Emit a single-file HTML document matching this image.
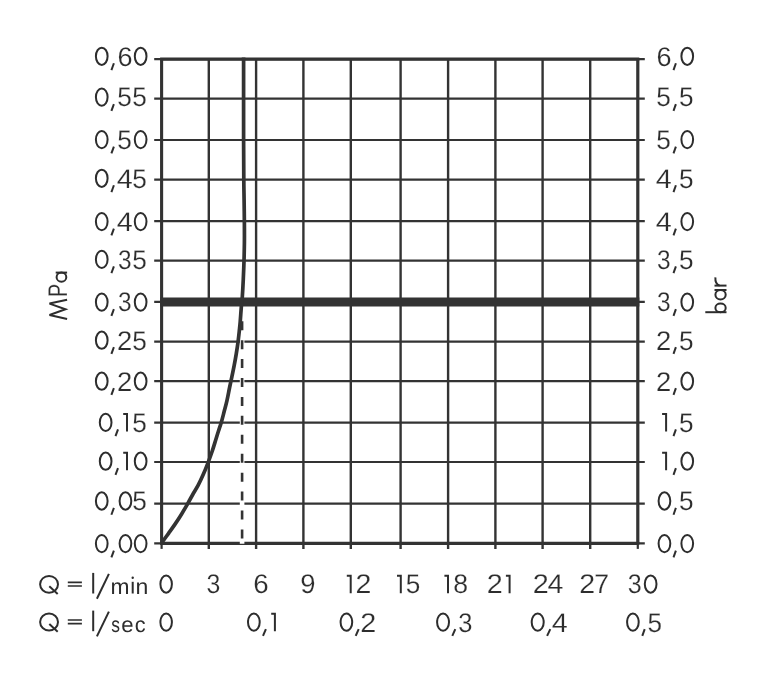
<!DOCTYPE html>
<html><head><meta charset="utf-8"><title>Flow diagram</title>
<style>html,body{margin:0;padding:0;background:#fff;overflow:hidden;}svg{display:block;}text{text-rendering:geometricPrecision;font-family:"Liberation Sans",sans-serif;font-size:27.0px;fill:#2d2d2d;stroke:#fff;stroke-width:0.20px;}text.n{stroke:none;}text.h{fill:none;stroke:none;}.g{fill:none;stroke:#2d2d2d;stroke-width:2.00;}</style>
</head><body>
<svg width="764" height="677" viewBox="0 0 764 677">
<rect x="0" y="0" width="764" height="677" fill="#ffffff"/>
<g stroke="#333333" fill="none">
<line x1="154.2" y1="59.2" x2="644.8" y2="59.2" stroke-width="2.2"/>
<line x1="154.2" y1="98.6" x2="644.8" y2="98.6" stroke-width="2.2"/>
<line x1="154.2" y1="140.0" x2="644.8" y2="140.0" stroke-width="2.2"/>
<line x1="154.2" y1="179.6" x2="644.8" y2="179.6" stroke-width="2.2"/>
<line x1="154.2" y1="221.1" x2="644.8" y2="221.1" stroke-width="2.2"/>
<line x1="154.2" y1="260.7" x2="644.8" y2="260.7" stroke-width="2.2"/>
<line x1="154.2" y1="301.9" x2="644.8" y2="301.9" stroke-width="2.2"/>
<line x1="154.2" y1="341.7" x2="644.8" y2="341.7" stroke-width="2.2"/>
<line x1="154.2" y1="381.2" x2="644.8" y2="381.2" stroke-width="2.2"/>
<line x1="154.2" y1="422.6" x2="644.8" y2="422.6" stroke-width="2.2"/>
<line x1="154.2" y1="462.0" x2="644.8" y2="462.0" stroke-width="2.2"/>
<line x1="154.2" y1="503.7" x2="644.8" y2="503.7" stroke-width="2.2"/>
<line x1="154.2" y1="543.4" x2="644.8" y2="543.4" stroke-width="2.2"/>
<line x1="161.6" y1="543.4" x2="161.6" y2="548.9" stroke-width="2.2"/>
<line x1="208.8" y1="59.2" x2="208.8" y2="548.9" stroke-width="2.4"/>
<line x1="256.1" y1="59.2" x2="256.1" y2="548.9" stroke-width="2.4"/>
<line x1="303.4" y1="59.2" x2="303.4" y2="548.9" stroke-width="2.4"/>
<line x1="350.8" y1="59.2" x2="350.8" y2="548.9" stroke-width="2.4"/>
<line x1="400.6" y1="59.2" x2="400.6" y2="548.9" stroke-width="2.4"/>
<line x1="448.1" y1="59.2" x2="448.1" y2="548.9" stroke-width="2.4"/>
<line x1="495.4" y1="59.2" x2="495.4" y2="548.9" stroke-width="2.4"/>
<line x1="542.6" y1="59.2" x2="542.6" y2="548.9" stroke-width="2.4"/>
<line x1="590.2" y1="59.2" x2="590.2" y2="548.9" stroke-width="2.4"/>
<line x1="637.8" y1="543.4" x2="637.8" y2="548.9" stroke-width="2.2"/>
<line x1="160.1" y1="59.2" x2="639.3" y2="59.2" stroke-width="3.2"/>
<line x1="160.1" y1="543.4" x2="639.3" y2="543.4" stroke-width="3.2"/>
<line x1="161.6" y1="59.2" x2="161.6" y2="543.4" stroke-width="3.1"/>
<line x1="637.8" y1="59.2" x2="637.8" y2="543.4" stroke-width="3.2"/>
<line x1="160.1" y1="301.9" x2="639.3" y2="301.9" stroke-width="9"/>
</g>
<line x1="242.1" y1="319.5" x2="242.1" y2="543.8" stroke="#ffffff" stroke-width="4.6"/>
<line x1="242.1" y1="321.2" x2="242.1" y2="541" stroke="#333333" stroke-width="2.6" stroke-dasharray="9 9.93"/>
<path d="M243.60 57.60 C243.60 71.33 243.57 119.60 243.60 140.00 C243.63 160.40 243.72 170.00 243.80 180.00 C243.88 190.00 244.00 192.50 244.10 200.00 C244.20 207.50 244.35 217.83 244.40 225.00 C244.45 232.17 244.47 237.00 244.40 243.00 C244.33 249.00 244.18 255.00 244.00 261.00 C243.82 267.00 243.58 273.03 243.30 279.00 C243.02 284.97 242.63 292.13 242.30 296.80 C241.97 301.47 241.65 302.80 241.30 307.00 C240.95 311.20 240.52 318.17 240.20 322.00 C239.88 325.83 239.75 326.77 239.40 330.00 C239.05 333.23 238.62 337.47 238.10 341.40 C237.58 345.33 236.95 349.60 236.30 353.60 C235.65 357.60 234.95 361.47 234.20 365.40 C233.45 369.33 232.57 373.52 231.80 377.20 C231.03 380.88 230.42 383.57 229.60 387.50 C228.78 391.43 227.82 396.75 226.90 400.80 C225.98 404.85 225.05 408.15 224.10 411.80 C223.15 415.45 222.15 419.47 221.20 422.70 C220.25 425.93 219.32 428.32 218.40 431.20 C217.48 434.08 216.75 436.62 215.70 440.00 C214.65 443.38 213.42 447.62 212.10 451.50 C210.78 455.38 209.32 459.37 207.80 463.30 C206.28 467.23 204.60 471.45 203.00 475.10 C201.40 478.75 199.82 482.13 198.20 485.20 C196.58 488.27 195.07 490.40 193.30 493.50 C191.53 496.60 189.62 500.27 187.60 503.80 C185.58 507.33 183.32 511.27 181.20 514.70 C179.08 518.13 177.00 521.30 174.90 524.40 C172.80 527.50 170.75 530.30 168.60 533.30 C166.45 536.30 163.10 540.88 162.00 542.40" stroke="#333333" stroke-width="3.7" fill="none"/>
<g opacity="0.999">
<ellipse class="g" cx="101.75" cy="56.30" rx="5.85" ry="8.65"/>
<path class="g" d="M113.90 63.25 L111.40 70.05"/>
<text transform="translate(117.42 65.65) scale(1.003 1.000)">6</text>
<ellipse class="g" cx="140.65" cy="56.30" rx="5.85" ry="8.65"/>
<text transform="translate(656.42 65.65) scale(1.003 1.000)">6</text>
<path class="g" d="M675.90 63.25 L673.50 70.05"/>
<ellipse class="g" cx="687.25" cy="56.30" rx="5.85" ry="8.65"/>
<ellipse class="g" cx="101.75" cy="97.10" rx="5.85" ry="8.65"/>
<path class="g" d="M113.90 104.05 L111.40 110.85"/>
<text transform="translate(117.15 106.45) scale(0.969 1.000)">5</text>
<text transform="translate(132.35 106.45) scale(0.969 1.000)">5</text>
<text transform="translate(656.15 106.45) scale(0.969 1.000)">5</text>
<path class="g" d="M675.90 104.05 L673.50 110.85"/>
<text transform="translate(678.95 106.45) scale(0.969 1.000)">5</text>
<ellipse class="g" cx="101.75" cy="139.60" rx="5.85" ry="8.65"/>
<path class="g" d="M113.90 146.55 L111.40 153.35"/>
<text transform="translate(117.15 148.95) scale(0.969 1.000)">5</text>
<ellipse class="g" cx="140.65" cy="139.60" rx="5.85" ry="8.65"/>
<text transform="translate(656.15 148.95) scale(0.969 1.000)">5</text>
<path class="g" d="M675.90 146.55 L673.50 153.35"/>
<ellipse class="g" cx="687.25" cy="139.60" rx="5.85" ry="8.65"/>
<ellipse class="g" cx="101.75" cy="178.30" rx="5.85" ry="8.65"/>
<path class="g" d="M113.90 185.25 L111.40 192.05"/>
<text transform="translate(116.74 187.65) scale(1.066 1.000)">4</text>
<text transform="translate(132.35 187.65) scale(0.969 1.000)">5</text>
<text transform="translate(655.74 187.65) scale(1.066 1.000)">4</text>
<path class="g" d="M675.90 185.25 L673.50 192.05"/>
<text transform="translate(678.95 187.65) scale(0.969 1.000)">5</text>
<ellipse class="g" cx="101.75" cy="221.60" rx="5.85" ry="8.65"/>
<path class="g" d="M113.90 228.55 L111.40 235.35"/>
<text transform="translate(116.74 230.95) scale(1.066 1.000)">4</text>
<ellipse class="g" cx="140.65" cy="221.60" rx="5.85" ry="8.65"/>
<text transform="translate(655.74 230.95) scale(1.066 1.000)">4</text>
<path class="g" d="M675.90 228.55 L673.50 235.35"/>
<ellipse class="g" cx="687.25" cy="221.60" rx="5.85" ry="8.65"/>
<ellipse class="g" cx="101.75" cy="259.40" rx="5.85" ry="8.65"/>
<path class="g" d="M113.90 266.35 L111.40 273.15"/>
<text transform="translate(118.07 268.75) scale(0.906 1.000)">3</text>
<text transform="translate(132.35 268.75) scale(0.969 1.000)">5</text>
<text transform="translate(657.07 268.75) scale(0.906 1.000)">3</text>
<path class="g" d="M675.90 266.35 L673.50 273.15"/>
<text transform="translate(678.95 268.75) scale(0.969 1.000)">5</text>
<ellipse class="g" cx="101.75" cy="302.10" rx="5.85" ry="8.65"/>
<path class="g" d="M113.90 309.05 L111.40 315.85"/>
<text transform="translate(118.07 311.45) scale(0.906 1.000)">3</text>
<ellipse class="g" cx="140.65" cy="302.10" rx="5.85" ry="8.65"/>
<text transform="translate(657.07 311.45) scale(0.906 1.000)">3</text>
<path class="g" d="M675.90 309.05 L673.50 315.85"/>
<ellipse class="g" cx="687.25" cy="302.10" rx="5.85" ry="8.65"/>
<ellipse class="g" cx="101.75" cy="340.20" rx="5.85" ry="8.65"/>
<path class="g" d="M113.90 347.15 L111.40 353.95"/>
<text transform="translate(116.92 349.55) scale(1.016 1.000)">2</text>
<text transform="translate(132.35 349.55) scale(0.969 1.000)">5</text>
<text transform="translate(655.92 349.55) scale(1.016 1.000)">2</text>
<path class="g" d="M675.90 347.15 L673.50 353.95"/>
<text transform="translate(678.95 349.55) scale(0.969 1.000)">5</text>
<ellipse class="g" cx="101.75" cy="381.20" rx="5.85" ry="8.65"/>
<path class="g" d="M113.90 388.15 L111.40 394.95"/>
<text transform="translate(116.92 390.55) scale(1.016 1.000)">2</text>
<ellipse class="g" cx="140.65" cy="381.20" rx="5.85" ry="8.65"/>
<text transform="translate(655.92 390.55) scale(1.016 1.000)">2</text>
<path class="g" d="M675.90 388.15 L673.50 394.95"/>
<ellipse class="g" cx="687.25" cy="381.20" rx="5.85" ry="8.65"/>
<ellipse class="g" cx="105.65" cy="422.40" rx="5.85" ry="8.65"/>
<path class="g" d="M118.00 429.35 L115.50 436.15"/>
<path class="g" d="M123.20 414.05 H127.00 V431.55"/>
<text transform="translate(132.35 431.75) scale(0.969 1.000)">5</text>
<path class="g" d="M662.10 414.05 H666.10 V431.55"/>
<path class="g" d="M675.90 429.35 L673.50 436.15"/>
<text transform="translate(678.95 431.75) scale(0.969 1.000)">5</text>
<ellipse class="g" cx="105.65" cy="461.20" rx="5.85" ry="8.65"/>
<path class="g" d="M118.00 468.15 L115.50 474.95"/>
<path class="g" d="M123.20 452.85 H127.00 V470.35"/>
<ellipse class="g" cx="140.65" cy="461.20" rx="5.85" ry="8.65"/>
<path class="g" d="M662.10 452.85 H666.10 V470.35"/>
<path class="g" d="M675.90 468.15 L673.50 474.95"/>
<ellipse class="g" cx="687.25" cy="461.20" rx="5.85" ry="8.65"/>
<ellipse class="g" cx="101.75" cy="501.00" rx="5.85" ry="8.65"/>
<path class="g" d="M113.90 507.95 L111.40 514.75"/>
<ellipse class="g" cx="125.45" cy="501.00" rx="5.85" ry="8.65"/>
<text transform="translate(132.35 510.35) scale(0.969 1.000)">5</text>
<ellipse class="g" cx="664.45" cy="501.00" rx="5.85" ry="8.65"/>
<path class="g" d="M675.90 507.95 L673.50 514.75"/>
<text transform="translate(678.95 510.35) scale(0.969 1.000)">5</text>
<ellipse class="g" cx="101.75" cy="543.60" rx="5.85" ry="8.65"/>
<path class="g" d="M113.90 550.55 L111.40 557.35"/>
<ellipse class="g" cx="125.45" cy="543.60" rx="5.85" ry="8.65"/>
<ellipse class="g" cx="140.65" cy="543.60" rx="5.85" ry="8.65"/>
<ellipse class="g" cx="664.45" cy="543.60" rx="5.85" ry="8.65"/>
<path class="g" d="M675.90 550.55 L673.50 557.35"/>
<ellipse class="g" cx="687.25" cy="543.60" rx="5.85" ry="8.65"/>
<ellipse class="g" cx="166.15" cy="584.05" rx="5.75" ry="8.65"/>
<text transform="translate(206.55 593.40) scale(0.922 1.000)">3</text>
<text transform="translate(253.19 593.40) scale(1.027 1.000)">6</text>
<text transform="translate(300.21 593.40) scale(1.018 1.000)">9</text>
<path class="g" d="M346.80 575.70 H350.70 V593.20"/>
<text transform="translate(355.46 593.40) scale(1.057 1.000)">2</text>
<path class="g" d="M397.00 575.70 H400.80 V593.20"/>
<text transform="translate(405.65 593.40) scale(0.969 1.000)">5</text>
<path class="g" d="M444.40 575.70 H448.00 V593.20"/>
<text transform="translate(453.14 593.40) scale(0.987 1.000)">8</text>
<text transform="translate(486.75 593.40) scale(1.065 1.000)">2</text>
<path class="g" d="M505.90 575.70 H509.60 V593.20"/>
<text transform="translate(532.65 593.40) scale(1.065 1.000)">2</text>
<text transform="translate(547.44 593.40) scale(1.058 1.000)">4</text>
<text transform="translate(579.26 593.40) scale(1.057 1.000)">2</text>
<text transform="translate(594.34 593.40) scale(0.986 1.000)">7</text>
<text transform="translate(627.64 593.40) scale(0.930 1.000)">3</text>
<ellipse class="g" cx="650.65" cy="584.05" rx="5.85" ry="8.65"/>
<ellipse class="g" cx="166.15" cy="622.15" rx="5.75" ry="8.65"/>
<ellipse class="g" cx="253.85" cy="622.15" rx="5.85" ry="8.65"/>
<path class="g" d="M265.90 629.10 L263.00 635.90"/>
<path class="g" d="M271.20 613.80 H274.90 V631.30"/>
<ellipse class="g" cx="346.40" cy="622.15" rx="5.80" ry="8.65"/>
<path class="g" d="M358.70 629.10 L355.70 635.90"/>
<text transform="translate(360.35 631.50) scale(1.065 1.000)">2</text>
<ellipse class="g" cx="443.05" cy="622.15" rx="5.95" ry="8.65"/>
<path class="g" d="M455.30 629.10 L452.30 635.90"/>
<text transform="translate(458.13 631.50) scale(0.945 1.000)">3</text>
<ellipse class="g" cx="537.70" cy="622.15" rx="6.00" ry="8.65"/>
<path class="g" d="M550.30 629.10 L547.10 635.90"/>
<text transform="translate(551.64 631.50) scale(1.066 1.000)">4</text>
<ellipse class="g" cx="632.90" cy="622.15" rx="5.80" ry="8.65"/>
<path class="g" d="M644.70 629.10 L642.30 635.90"/>
<text transform="translate(647.45 631.50) scale(0.969 1.000)">5</text>
<ellipse class="g" cx="49.05" cy="584.30" rx="8.95" ry="8.40"/>
<path class="g" d="M49.3 586.30 L57.7 594.00"/>
<path class="g" style="stroke-width:1.7" d="M67.8 582.30 H81.9 M67.8 586.00 H81.9"/>
<path class="g" d="M93.2 572.90 V593.50"/>
<path class="g" d="M96.9 598.70 L108.9 573.90"/>
<text class="n" transform="translate(110.48 594.00) scale(0.846 0.805)">m</text>
<path class="g" d="M132.7 581.80 V593.50"/>
<circle cx="132.7" cy="577.70" r="1.2" fill="#2d2d2d"/>
<text class="n" transform="translate(135.47 594.00) scale(0.854 0.805)">n</text>
<ellipse class="g" cx="49.05" cy="622.00" rx="8.95" ry="8.40"/>
<path class="g" d="M49.3 624.00 L57.7 631.70"/>
<path class="g" style="stroke-width:1.7" d="M67.8 620.00 H81.9 M67.8 623.70 H81.9"/>
<path class="g" d="M93.2 610.60 V631.20"/>
<path class="g" d="M96.9 636.40 L108.9 611.60"/>
<text class="n" transform="translate(111.31 631.70) scale(0.646 0.805)">s</text>
<text class="n" transform="translate(121.26 631.70) scale(0.821 0.805)">e</text>
<text class="n" transform="translate(134.67 631.70) scale(0.807 0.805)">c</text>
<g transform="translate(67.1 320) rotate(-90)">
<path class="g" stroke-linejoin="miter" stroke-miterlimit="3" d="M1.1 0 L5.0 -17.6 L10.7 -1.6 L16.4 -17.6 L20.3 0"/>
<text transform="translate(22.98 0.00) scale(0.731 1.000)">P</text>
<ellipse class="g" cx="42.85" cy="-5.65" rx="4.55" ry="4.85"/>
<path class="g" d="M47.40 -11.4 V0"/>
</g>
<g transform="translate(726.5 313.4) rotate(-90)">
<path class="g" d="M1.20 -21.2 V0"/>
<ellipse class="g" cx="5.50" cy="-5.95" rx="4.30" ry="5.15"/>
<ellipse class="g" cx="18.70" cy="-5.95" rx="4.70" ry="5.15"/>
<path class="g" d="M23.40 -12 V0"/>
<path class="g" d="M27.80 -12 V0"/>
<path class="g" d="M27.80 -6.8 C28.60 -10 31.50 -11.4 36.00 -11.1"/>
</g>
</g>
<text class="h" x="95" y="65.7">0,60</text>
<text class="h" x="657" y="65.7">6,0</text>
<text class="h" x="95" y="106.5">0,55</text>
<text class="h" x="657" y="106.5">5,5</text>
<text class="h" x="95" y="148.9">0,50</text>
<text class="h" x="657" y="148.9">5,0</text>
<text class="h" x="95" y="187.6">0,45</text>
<text class="h" x="657" y="187.6">4,5</text>
<text class="h" x="95" y="230.9">0,40</text>
<text class="h" x="657" y="230.9">4,0</text>
<text class="h" x="95" y="268.8">0,35</text>
<text class="h" x="657" y="268.8">3,5</text>
<text class="h" x="95" y="311.4">0,30</text>
<text class="h" x="657" y="311.4">3,0</text>
<text class="h" x="95" y="349.6">0,25</text>
<text class="h" x="657" y="349.6">2,5</text>
<text class="h" x="95" y="390.6">0,20</text>
<text class="h" x="657" y="390.6">2,0</text>
<text class="h" x="95" y="431.8">0,15</text>
<text class="h" x="657" y="431.8">1,5</text>
<text class="h" x="95" y="470.6">0,10</text>
<text class="h" x="657" y="470.6">1,0</text>
<text class="h" x="95" y="510.3">0,05</text>
<text class="h" x="657" y="510.3">0,5</text>
<text class="h" x="95" y="553.0">0,00</text>
<text class="h" x="657" y="553.0">0,0</text>
<text class="h" x="159" y="593.4">0</text>
<text class="h" x="207" y="593.4">3</text>
<text class="h" x="254" y="593.4">6</text>
<text class="h" x="301" y="593.4">9</text>
<text class="h" x="346" y="593.4">12</text>
<text class="h" x="397" y="593.4">15</text>
<text class="h" x="444" y="593.4">18</text>
<text class="h" x="488" y="593.4">21</text>
<text class="h" x="534" y="593.4">24</text>
<text class="h" x="580" y="593.4">27</text>
<text class="h" x="628" y="593.4">30</text>
<text class="h" x="159" y="631.5">0</text>
<text class="h" x="247" y="631.5">0,1</text>
<text class="h" x="339" y="631.5">0,2</text>
<text class="h" x="436" y="631.5">0,3</text>
<text class="h" x="530" y="631.5">0,4</text>
<text class="h" x="626" y="631.5">0,5</text>
<text class="h" x="39" y="593.4">Q = l/min</text>
<text class="h" x="39" y="631.5">Q = l/sec</text>
<text class="h" transform="translate(67.1 320) rotate(-90)">MPa</text>
<text class="h" transform="translate(726.5 313.4) rotate(-90)">bar</text>
</svg>
</body></html>
